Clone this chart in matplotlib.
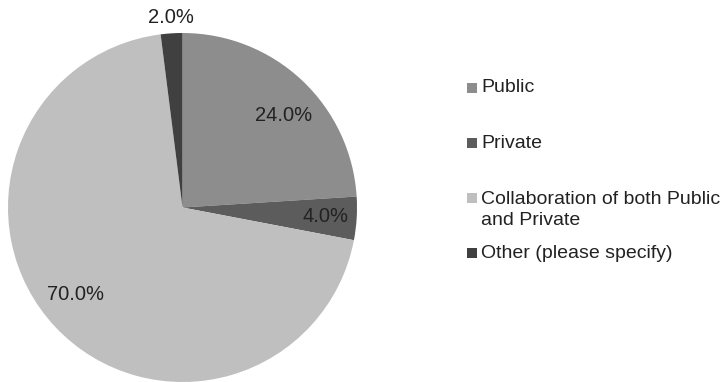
import numpy as np
import matplotlib
matplotlib.use("Agg")
import matplotlib.pyplot as plt
from matplotlib.patches import Rectangle

plt.rcParams['font.family'] = ['Liberation Sans', 'DejaVu Sans']

categories = ["Public", "Private", "Collaboration of both Public\nand Private", "Other (please specify)"]
shares = [24.0, 4.0, 70.0, 2.0]
colors = ["#8d8d8d", "#5c5c5c", "#bfbfbf", "#404040"]
# per-label placement: radius (fraction of pie radius) and angular nudge (degrees)
label_radius = [0.78, 0.82, 0.79, 1.09]
label_nudge = [-4.5, 0.0, -4.0, 0.0]

W, H = 720, 382
fig = plt.figure(figsize=(W / 100, H / 100), dpi=100)
fig.patch.set_facecolor("white")

cx, cy, r = 182.5, 207.5, 174.5
ax = fig.add_axes([(cx - r) / W, (H - cy - r) / H, 2 * r / W, 2 * r / H])
wedges, _ = ax.pie(shares, colors=colors, startangle=90, counterclock=False,
                   radius=1.0, wedgeprops=dict(linewidth=0))
ax.set_xlim(-1, 1)
ax.set_ylim(-1, 1)
ax.set_aspect('equal')
ax.axis('off')

text_color = "#222222"
for w, v, rr, nd in zip(wedges, shares, label_radius, label_nudge):
    mid = np.deg2rad((w.theta1 + w.theta2) / 2 + nd)
    ax.text(rr * np.cos(mid), rr * np.sin(mid), f"{v:.1f}%",
            ha="center", va="center", fontsize=14.5, color=text_color, clip_on=False)

# legend: small squares with labels, first text line centred on each square
legend_y = [88, 143, 198, 253]
for lab, col, y in zip(categories, colors, legend_y):
    fig.patches.append(Rectangle((467 / W, (H - y - 5) / H), 10 / W, 10 / H,
                                 transform=fig.transFigure, facecolor=col,
                                 edgecolor="none"))
    if "\n" in lab:
        fig.text(481 / W, (H - y + 7) / H, lab, ha="left", va="top",
                 fontsize=14, color=text_color, linespacing=1.3)
    else:
        fig.text(481 / W, (H - y) / H, lab, ha="left", va="center",
                 fontsize=14, color=text_color)

fig.savefig("out.png", dpi=100, facecolor="white")
